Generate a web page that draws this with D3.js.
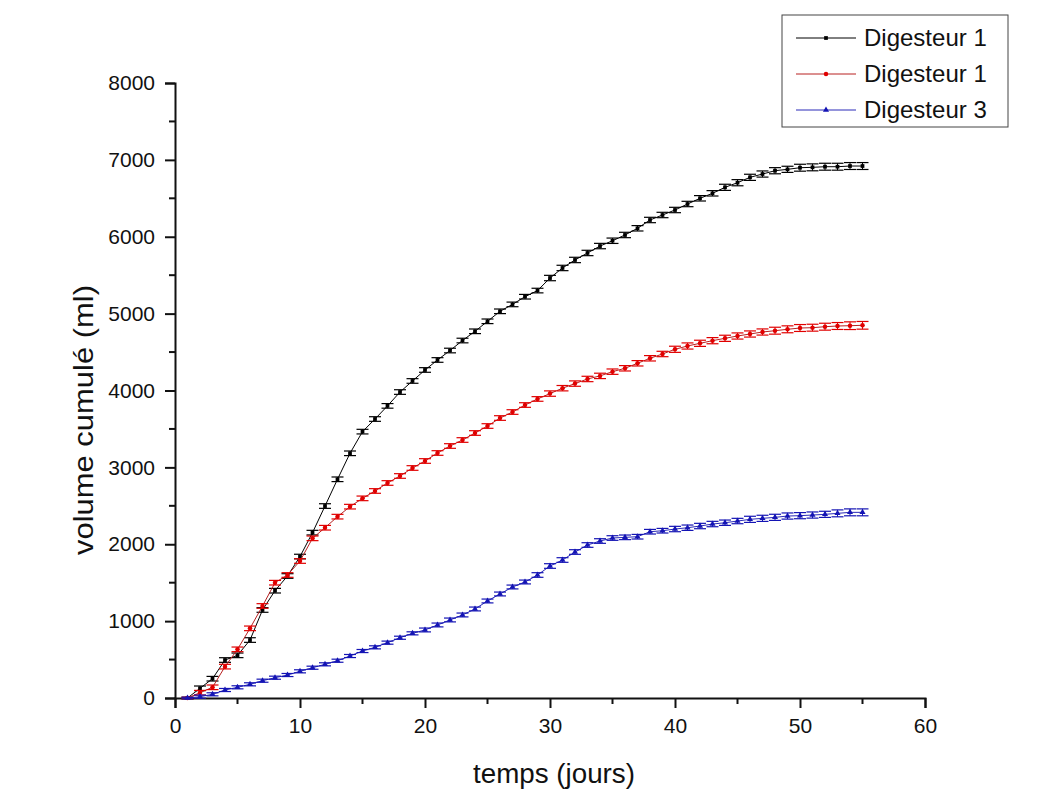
<!DOCTYPE html>
<html>
<head>
<meta charset="utf-8">
<script src="https://cdn.jsdelivr.net/npm/d3@7"></script>
<style>
  body { margin: 0; background: #fff; }
  text { font-family: "Liberation Sans", Arial, sans-serif; fill: #111; }
</style>
</head>
<body>
<div id="chart"></div>
<script>
// day index for all three series
var days = d3.range(1, 56);

var digesteur1a = [0, 126, 251, 494, 555, 754, 1145, 1396, 1587, 1840,
  2151, 2497, 2845, 3183, 3465, 3629, 3800, 3980, 4124, 4267,
  4397, 4520, 4650, 4770, 4900, 5030, 5120, 5220, 5300, 5463,
  5594, 5698, 5789, 5879, 5948, 6023, 6110, 6218, 6283, 6348,
  6426, 6500, 6565, 6643, 6703, 6773, 6816, 6859, 6877, 6898,
  6903, 6911, 6911, 6920, 6920];
var digesteur1b = [0, 69, 139, 408, 633, 906, 1197, 1500, 1600, 1782,
  2077, 2215, 2359, 2489, 2597, 2693, 2797, 2888, 2992, 3083,
  3187, 3278, 3356, 3447, 3538, 3642, 3720, 3811, 3890, 3960,
  4030, 4090, 4150, 4190, 4245, 4289, 4354, 4419, 4475, 4536,
  4579, 4614, 4648, 4679, 4709, 4735, 4761, 4778, 4796, 4813,
  4817, 4830, 4839, 4843, 4848];
var digesteur3 = [0, 17, 48, 104, 139, 178, 225, 264, 299, 347,
  394, 438, 485, 546, 611, 659, 720, 784, 841, 885,
  950, 1015, 1080, 1158, 1262, 1353, 1444, 1509, 1600, 1717,
  1795, 1899, 1990, 2042, 2081, 2090, 2098, 2163, 2176, 2198,
  2215, 2237, 2263, 2280, 2302, 2324, 2337, 2350, 2367, 2372,
  2380, 2389, 2402, 2415, 2415];

// error bar half-heights (ml)
var err1a = [10, 30, 30, 30, 30, 30, 30, 30, 30, 30,
  30, 30, 30, 30, 30, 30, 30, 30, 30, 30,
  30, 30, 30, 30, 30, 30, 30, 30, 30, 35,
  35, 35, 35, 35, 35, 35, 35, 35, 35, 35,
  35, 35, 35, 40, 40, 40, 40, 40, 40, 45,
  45, 45, 45, 45, 45];
var err1b = [10, 30, 30, 30, 30, 30, 30, 30, 30, 30,
  30, 30, 30, 30, 30, 30, 30, 30, 30, 30,
  30, 30, 30, 30, 30, 30, 30, 30, 30, 35,
  35, 35, 35, 35, 35, 35, 35, 35, 35, 40,
  40, 40, 40, 40, 40, 40, 40, 45, 45, 45,
  45, 45, 45, 50, 50];
var err3 = [10, 20, 20, 20, 20, 20, 20, 20, 20, 20,
  20, 20, 20, 20, 20, 20, 20, 20, 20, 25,
  25, 25, 25, 25, 25, 25, 25, 25, 30, 30,
  30, 30, 30, 30, 30, 30, 30, 30, 30, 35,
  35, 35, 35, 35, 35, 40, 40, 40, 40, 40,
  40, 40, 45, 45, 45];

var seriesNames = ["Digesteur 1", "Digesteur 1", "Digesteur 3"];
var xTicks = [0, 10, 20, 30, 40, 50, 60];
var yTicks = [0, 1000, 2000, 3000, 4000, 5000, 6000, 7000, 8000];

var W = 1038, H = 812;
var margin = { left: 175, right: 113, top: 83, bottom: 114 };

var svg = d3.select("#chart").append("svg")
    .attr("width", W)
    .attr("height", H);

var x = d3.scaleLinear().domain([0, 60]).range([margin.left, W - margin.right]);
var y = d3.scaleLinear().domain([0, 8000]).range([H - margin.bottom, margin.top]);

var series = [
  { name: seriesNames[0], values: digesteur1a, err: err1a, color: "#000000", lineColor: "#000000", marker: "square" },
  { name: seriesNames[1], values: digesteur1b, err: err1b, color: "#e00000", lineColor: "#b82020", marker: "circle" },
  { name: seriesNames[2], values: digesteur3, err: err3, color: "#1414b4", lineColor: "#2a2ab8", marker: "triangle" }
];

function markerPath(type) {
  if (type === "square") return d3.symbol().type(d3.symbolSquare).size(14)();
  if (type === "circle") return d3.symbol().type(d3.symbolCircle).size(16)();
  return d3.symbol().type(d3.symbolTriangle).size(16)();
}

/* ------- AXES ------- */
var xAxis = d3.axisBottom(x).tickValues(xTicks).tickSize(10).tickPadding(10)
    .tickFormat(d3.format("d"));
var yAxis = d3.axisLeft(y).tickValues(yTicks).tickSize(10).tickPadding(10)
    .tickFormat(d3.format("d"));

var gx = svg.append("g")
    .attr("transform", "translate(0," + y(0) + ")")
    .call(xAxis);
var gy = svg.append("g")
    .attr("transform", "translate(" + x(0) + ",0)")
    .call(yAxis);

// minor ticks
gx.append("g").selectAll("line")
    .data([5, 15, 25, 35, 45, 55])
  .enter().append("line")
    .attr("x1", function(d) { return x(d); })
    .attr("x2", function(d) { return x(d); })
    .attr("y1", 0).attr("y2", 6)
    .attr("stroke", "#111").attr("stroke-width", 2);
gy.append("g").selectAll("line")
    .data([500, 1500, 2500, 3500, 4500, 5500, 6500, 7500])
  .enter().append("line")
    .attr("y1", function(d) { return y(d); })
    .attr("y2", function(d) { return y(d); })
    .attr("x1", 0).attr("x2", -6)
    .attr("stroke", "#111").attr("stroke-width", 2);

[gx, gy].forEach(function(g) {
  g.select(".domain").attr("stroke", "#111").attr("stroke-width", 2);
  g.selectAll(".tick line").attr("stroke", "#111").attr("stroke-width", 2);
  g.selectAll(".tick text").style("font-size", "21px").attr("fill", "#111");
});

svg.append("text")
    .attr("x", 554)
    .attr("y", 783)
    .attr("text-anchor", "middle")
    .style("font-size", "27px")
    .attr("textLength", 162)
    .attr("lengthAdjust", "spacingAndGlyphs")
    .text("temps (jours)");

svg.append("text")
    .attr("transform", "translate(93,420) rotate(-90)")
    .attr("text-anchor", "middle")
    .style("font-size", "27px")
    .attr("textLength", 270)
    .attr("lengthAdjust", "spacingAndGlyphs")
    .text("volume cumulé (ml)");

/* ------- SERIES ------- */
var line = d3.line()
    .x(function(d) { return x(d.day); })
    .y(function(d) { return y(d.value); });

series.forEach(function(s) {
  var pts = days.map(function(d, i) { return { day: d, value: s.values[i], err: s.err[i] }; });
  var g = svg.append("g");

  g.append("path")
      .datum(pts)
      .attr("fill", "none")
      .attr("stroke", s.lineColor)
      .attr("stroke-width", 1)
      .attr("d", line);

  var eb = g.selectAll("g.err").data(pts).enter().append("g").attr("class", "err");
  eb.append("line")
      .attr("x1", function(d) { return x(d.day); })
      .attr("x2", function(d) { return x(d.day); })
      .attr("y1", function(d) { return y(d.value - d.err); })
      .attr("y2", function(d) { return y(d.value + d.err); })
      .attr("stroke", s.color).attr("stroke-width", 1);
  [-1, 1].forEach(function(sign) {
    eb.append("line")
        .attr("x1", function(d) { return x(d.day) - 6; })
        .attr("x2", function(d) { return x(d.day) + 6; })
        .attr("y1", function(d) { return y(d.value + sign * d.err); })
        .attr("y2", function(d) { return y(d.value + sign * d.err); })
        .attr("stroke", s.color).attr("stroke-width", 1.2);
  });

  g.selectAll("path.mk").data(pts).enter().append("path")
      .attr("class", "mk")
      .attr("d", markerPath(s.marker))
      .attr("transform", function(d) { return "translate(" + x(d.day) + "," + y(d.value) + ")"; })
      .attr("fill", s.color);
});

/* ------- LEGEND ------- */
var legend = svg.append("g");
legend.append("rect")
    .attr("x", 782).attr("y", 15)
    .attr("width", 226).attr("height", 112)
    .attr("fill", "#fff")
    .attr("stroke", "#444").attr("stroke-width", 1);

series.forEach(function(s, i) {
  var cy = 38 + i * 36;
  legend.append("line")
      .attr("x1", 796).attr("x2", 856)
      .attr("y1", cy).attr("y2", cy)
      .attr("stroke", s.lineColor).attr("stroke-width", 1);
  legend.append("path")
      .attr("d", markerPath(s.marker))
      .attr("transform", "translate(826," + cy + ")")
      .attr("fill", s.color);
  legend.append("text")
      .attr("x", 864).attr("y", cy + 8)
      .style("font-size", "24px")
      .text(s.name);
});
</script>
</body>
</html>
